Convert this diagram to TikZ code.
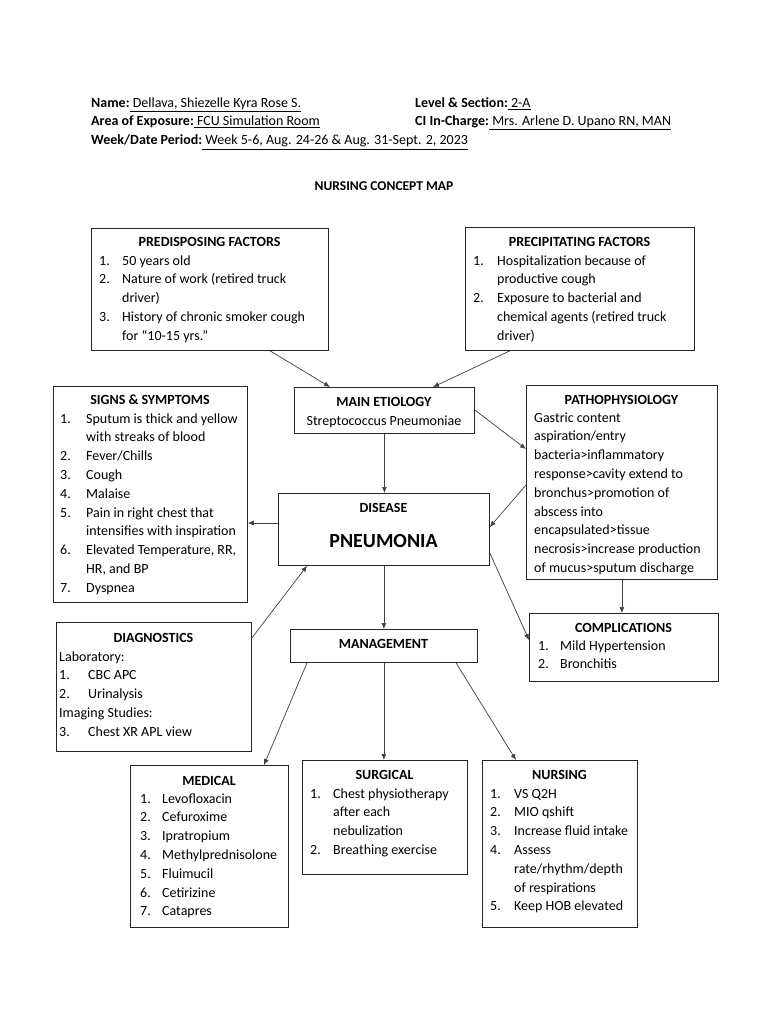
\documentclass[tikz,border=0pt]{standalone}
\usepackage{fontspec}
\setmainfont{Carlito}
\usetikzlibrary{calc,arrows.meta}
\begin{document}
\begin{tikzpicture}[x=1pt,y=-1pt,
  box/.style={draw=black!85,line width=0.8pt,inner sep=0pt,anchor=north west},
  txt/.style={inner sep=0pt,font=\fontsize{14}{18.8}\selectfont},
  arr/.style={draw=black!75,line width=0.7pt,-{Latex[length=6pt,width=5pt]}}]
\useasboundingbox[fill=white] (0,0) rectangle (768,1024);
\renewcommand{\arraystretch}{1}
% header
\node[txt,anchor=base west] (h1) at (91,108) {\textbf{Name:}\underline{\ Dellava, Shiezelle Kyra Rose S.}};
\node[txt,anchor=base west] (h2) at (415,108) {\textbf{Level \& Section:}\underline{\ 2-A}};
\node[txt,anchor=base west] (h3) at (91,126) {\textbf{Area of Exposure:}\underline{\ FCU Simulation Room}};
\node[txt,anchor=base west] (h4) at (415,126) {\textbf{CI In-Charge:}\underline{\ Mrs. Arlene D. Upano RN, MAN}};
\node[txt,anchor=base west] (h5) at (91,145) {\textbf{Week/Date Period:}\underline{\ Week 5-6, Aug. 24-26 \& Aug. 31-Sept. 2, 2023}};
\node[txt,anchor=base,font=\fontsize{13.5}{16}\selectfont] (title) at (384,190.5) {\textbf{NURSING CONCEPT MAP}};

% boxes
\node[box,minimum width=237,minimum height=122] (pred) at (91,228) {};
\node[box,minimum width=229,minimum height=123] (prec) at (465,227) {};
\node[box,minimum width=180,minimum height=46] (etio) at (294,387) {};
\node[box,minimum width=194,minimum height=216] (sign) at (53,386) {};
\node[box,minimum width=191,minimum height=194] (patho) at (526,385) {};
\node[box,minimum width=211,minimum height=72] (dis) at (278,493) {};
\node[box,minimum width=189,minimum height=68] (comp) at (529,613) {};
\node[box,minimum width=195,minimum height=129] (diag) at (56,622) {};
\node[box,minimum width=187,minimum height=33] (mgmt) at (290,629) {};
\node[box,minimum width=158,minimum height=162] (med) at (130,765) {};
\node[box,minimum width=165,minimum height=114] (surg) at (302,760) {};
\node[box,minimum width=155,minimum height=167] (nurs) at (482,760) {};

% texts
\node[txt,anchor=base] (predt) at (209.5,246) {\textbf{PREDISPOSING FACTORS}};
\node[txt,anchor=base west] (predl) at (99,265) {\begin{tabular}[t]{@{}p{23pt}@{}l@{}}
1.&50 years old\\ 2.&Nature of work (retired truck\\ &driver)\\ 3.&History of chronic smoker cough\\ &for “10-15 yrs.”\end{tabular}};

\node[txt,anchor=base] (prect) at (579.5,246) {\textbf{PRECIPITATING FACTORS}};
\node[txt,anchor=base west] (precl) at (473,265) {\begin{tabular}[t]{@{}p{24pt}@{}l@{}}
1.&Hospitalization because of\\ &productive cough\\ 2.&Exposure to bacterial and\\ &chemical agents (retired truck\\ &driver)\end{tabular}};

\node[txt,anchor=base] (etiot) at (384,406) {\textbf{MAIN ETIOLOGY}};
\node[txt,anchor=base] (etiol) at (384,425) {Streptococcus Pneumoniae};

\node[txt,anchor=base] (signt) at (150,404) {\textbf{SIGNS \& SYMPTOMS}};
\node[txt,anchor=base west] (signl) at (60,423) {\begin{tabular}[t]{@{}p{26pt}@{}l@{}}
1.&Sputum is thick and yellow\\ &with streaks of blood\\ 2.&Fever/Chills\\ 3.&Cough\\ 4.&Malaise\\
5.&Pain in right chest that\\ &intensifies with inspiration\\ 6.&Elevated Temperature, RR,\\ &HR, and BP\\ 7.&Dyspnea\end{tabular}};

\node[txt,anchor=base] (patht) at (621.5,404) {\textbf{PATHOPHYSIOLOGY}};
\node[txt,anchor=base west] (pathl) at (534,422) {\begin{tabular}[t]{@{}l@{}}
Gastric content\\ aspiration/entry\\ bacteria>inflammatory\\ response>cavity extend to\\ bronchus>promotion of\\
abscess into\\ encapsulated>tissue\\ necrosis>increase production\\ of mucus>sputum discharge\end{tabular}};

\node[txt,anchor=base] (dist) at (383.5,512) {\textbf{DISEASE}};
\node[txt,anchor=base,font=\fontsize{20}{24}\selectfont\bfseries] (disl) at (383.5,547) {PNEUMONIA};

\node[txt,anchor=base] (compt) at (623.5,632) {\textbf{COMPLICATIONS}};
\node[txt,anchor=base west] (compl) at (538,650) {\begin{tabular}[t]{@{}p{22pt}@{}l@{}}
1.&Mild Hypertension\\ 2.&Bronchitis\end{tabular}};

\node[txt,anchor=base] (diagt) at (153.5,642) {\textbf{DIAGNOSTICS}};
\node[txt,anchor=base west] (diagl) at (59,661) {\begin{tabular}[t]{@{}p{29pt}@{}l@{}}
\multicolumn{2}{@{}l@{}}{Laboratory:}\\ 1.&CBC APC\\ 2.&Urinalysis\\ \multicolumn{2}{@{}l@{}}{Imaging Studies:}\\ 3.&Chest XR APL view\end{tabular}};

\node[txt,anchor=base] (mgmtt) at (383.5,648) {\textbf{MANAGEMENT}};

\node[txt,anchor=base] (medt) at (209,785) {\textbf{MEDICAL}};
\node[txt,anchor=base west] (medl) at (140,803) {\begin{tabular}[t]{@{}p{22pt}@{}l@{}}
1.&Levofloxacin\\ 2.&Cefuroxime\\ 3.&Ipratropium\\ 4.&Methylprednisolone\\ 5.&Fluimucil\\ 6.&Cetirizine\\ 7.&Catapres\end{tabular}};

\node[txt,anchor=base] (surgt) at (384.5,779) {\textbf{SURGICAL}};
\node[txt,anchor=base west] (surgl) at (310,798) {\begin{tabular}[t]{@{}p{23pt}@{}l@{}}
1.&Chest physiotherapy\\ &after each\\ &nebulization\\ 2.&Breathing exercise\end{tabular}};

\node[txt,anchor=base] (nurst) at (559.5,779) {\textbf{NURSING}};
\node[txt,anchor=base west] (nursl) at (490,798) {\begin{tabular}[t]{@{}p{24pt}@{}l@{}}
1.&VS Q2H\\ 2.&MIO qshift\\ 3.&Increase fluid intake\\ 4.&Assess\\ &rate/rhythm/depth\\ &of respirations\\ 5.&Keep HOB elevated\end{tabular}};

% arrows
\draw[arr] ($(pred.south west)+(179,0)$) -- ($(etio.north west)+(36,0)$);
\draw[arr] ($(prec.south west)+(45,0)$) -- ($(etio.north west)+(139,0)$);
\draw[arr] ($(etio.north east)+(0,23)$) -- ($(patho.north west)+(0,64)$);
\draw[arr] (etio.south) -- (etio.south |- dis.north);
\draw[arr] ($(patho.north west)+(0,100)$) -- ($(dis.north east)+(0,34)$);
\coordinate (dl) at ($(dis.north west)+(0,30)$);
\draw[arr] (dl) -- (dl -| sign.east);
\draw[arr] ($(diag.north east)+(0,16)$) -- ($(dis.south west)+(29,0)$);
\draw[arr] (dis.south) -- (dis.south |- mgmt.north);
\draw[arr] ($(dis.north east)+(0,60)$) -- ($(comp.north west)+(0,27)$);
\draw[arr] (patho.south) -- (patho.south |- comp.north);
\draw[arr] ($(mgmt.south west)+(17,0)$) -- ($(med.north west)+(134,0)$);
\draw[arr] (mgmt.south) -- (mgmt.south |- surg.north);
\draw[arr] ($(mgmt.south west)+(166,0)$) -- ($(nurs.north west)+(34,0)$);
\end{tikzpicture}
\end{document}
